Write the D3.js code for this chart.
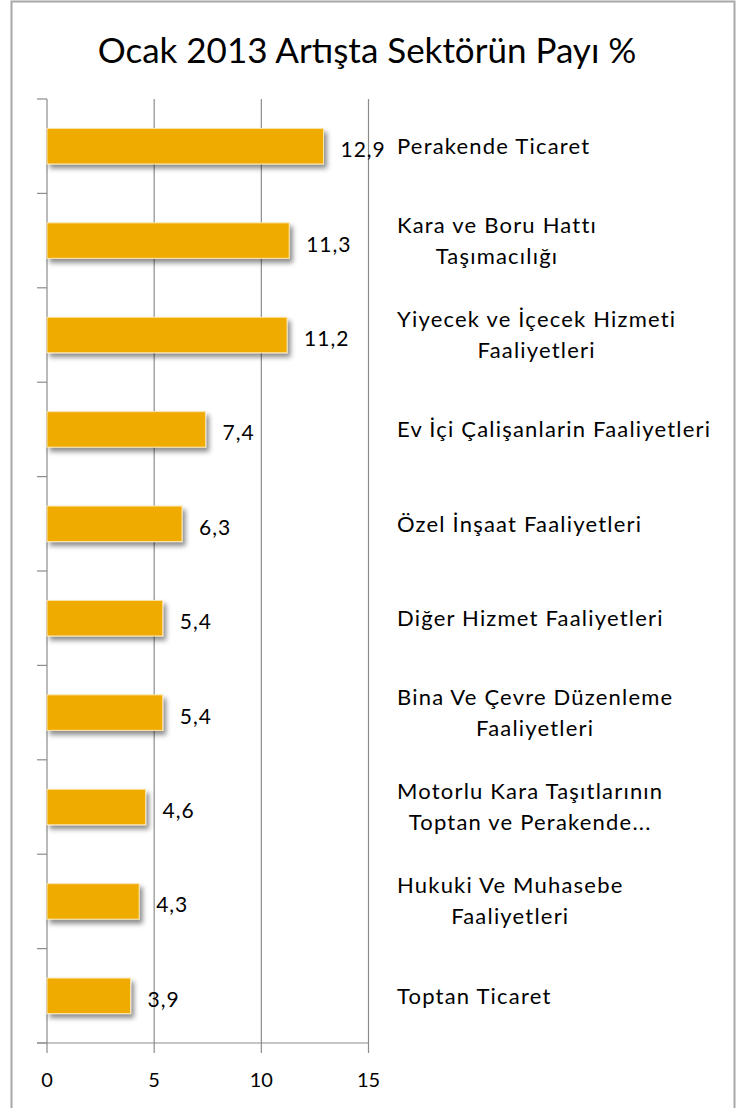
<!DOCTYPE html>
<html>
<head>
<meta charset="utf-8">
<script src="https://cdn.jsdelivr.net/npm/d3@7"></script>
<style>
  html, body { margin: 0; padding: 0; background: #fff; }
  svg { display: block; }
  text { font-family: Lato, "Open Sans", sans-serif; fill: #000; }
</style>
</head>
<body>
<svg id="chart" width="736" height="1108"></svg>
<script>
const titleText = "Ocak 2013 Artışta Sektörün Payı %";
const categories = [
  ["Perakende Ticaret"],
  ["Kara ve Boru Hattı", "Taşımacılığı"],
  ["Yiyecek ve İçecek Hizmeti", "Faaliyetleri"],
  ["Ev İçi Çalişanlarin Faaliyetleri"],
  ["Özel İnşaat Faaliyetleri"],
  ["Diğer Hizmet Faaliyetleri"],
  ["Bina Ve Çevre Düzenleme", "Faaliyetleri"],
  ["Motorlu Kara Taşıtlarının", "Toptan ve Perakende..."],
  ["Hukuki Ve Muhasebe", "Faaliyetleri"],
  ["Toptan Ticaret"]
];
const values = [12.9, 11.3, 11.2, 7.4, 6.3, 5.4, 5.4, 4.6, 4.3, 3.9];
const valueLabels = ["12,9", "11,3", "11,2", "7,4", "6,3", "5,4", "5,4", "4,6", "4,3", "3,9"];
const xTicks = [0, 5, 10, 15];

const svg = d3.select("#chart");

// outer chart border
svg.append("rect")
  .attr("x", 11.5).attr("y", 1.5)
  .attr("width", 723).attr("height", 1110)
  .attr("fill", "none").attr("stroke", "#a8a8a8").attr("stroke-width", 2);

// title
svg.append("text")
  .attr("x", 367).attr("y", 63)
  .attr("text-anchor", "middle")
  .attr("font-size", 35)
  .text(titleText);

const defs = svg.append("defs");
const f = defs.append("filter").attr("id", "shadow")
  .attr("x", "-10%").attr("y", "-30%").attr("width", "130%").attr("height", "180%");
f.append("feDropShadow").attr("dx", 3).attr("dy", 4).attr("stdDeviation", 2.5)
  .attr("flood-color", "#000").attr("flood-opacity", 0.45);

const x = d3.scaleLinear().domain([0, 15]).range([47, 368.5]);
const idx = d3.range(values.length);
const y = d3.scaleBand().domain(idx).range([99, 1043]).paddingInner(0.624).paddingOuter(0.312);
const step = y.step();

// gridlines
svg.append("g").selectAll("line").data(xTicks.filter(d => d > 0)).join("line")
  .attr("x1", d => x(d)).attr("x2", d => x(d))
  .attr("y1", 99).attr("y2", 1053)
  .attr("stroke", "#8c8c8c").attr("stroke-width", 1.2);

// left axis
svg.append("line").attr("x1", x(0)).attr("x2", x(0)).attr("y1", 99).attr("y2", 1053)
  .attr("stroke", "#8c8c8c").attr("stroke-width", 1.2);
svg.append("g").selectAll("line").data(d3.range(values.length + 1)).join("line")
  .attr("x1", 37).attr("x2", x(0))
  .attr("y1", d => 99 + d * step).attr("y2", d => 99 + d * step)
  .attr("stroke", "#8c8c8c").attr("stroke-width", 1.2);

// bottom axis
svg.append("line").attr("x1", 37).attr("x2", x(15)).attr("y1", 1043).attr("y2", 1043)
  .attr("stroke", "#8c8c8c").attr("stroke-width", 1.2);
svg.append("g").selectAll("text").data(xTicks).join("text")
  .attr("x", d => x(d)).attr("y", 1087)
  .attr("text-anchor", "middle").attr("font-size", 20)
  .text(d => d);

// bars
svg.append("g").selectAll("rect").data(values).join("rect")
  .attr("x", x(0)).attr("y", (d, i) => y(i))
  .attr("width", d => x(d) - x(0)).attr("height", y.bandwidth())
  .attr("fill", "#F0AB00")
  .attr("stroke", "#fbe6b0").attr("stroke-width", 1)
  .attr("filter", "url(#shadow)");

// value labels
svg.append("g").selectAll("text").data(values).join("text")
  .attr("x", d => x(d) + 17)
  .attr("y", (d, i) => y(i) + y.bandwidth() / 2 + 11)
  .attr("font-size", 21)
  .attr("letter-spacing", 1)
  .text((d, i) => valueLabels[i]);

// category labels
const labelX = 397;
const gl = svg.append("g");
categories.forEach((lines, i) => {
  const c = y(i) + y.bandwidth() / 2;
  const g = gl.append("g");
  const texts = lines.map((ln, k) => g.append("text")
    .attr("font-size", 22)
    .attr("letter-spacing", 1.2)
    .attr("y", lines.length === 1 ? c + 8 : c - 8 + k * 31)
    .text(ln));
  const widths = texts.map(t => t.node().getComputedTextLength());
  const maxW = d3.max(widths);
  texts.forEach(t => t.attr("x", labelX + maxW / 2).attr("text-anchor", "middle"));
});
</script>
</body>
</html>
